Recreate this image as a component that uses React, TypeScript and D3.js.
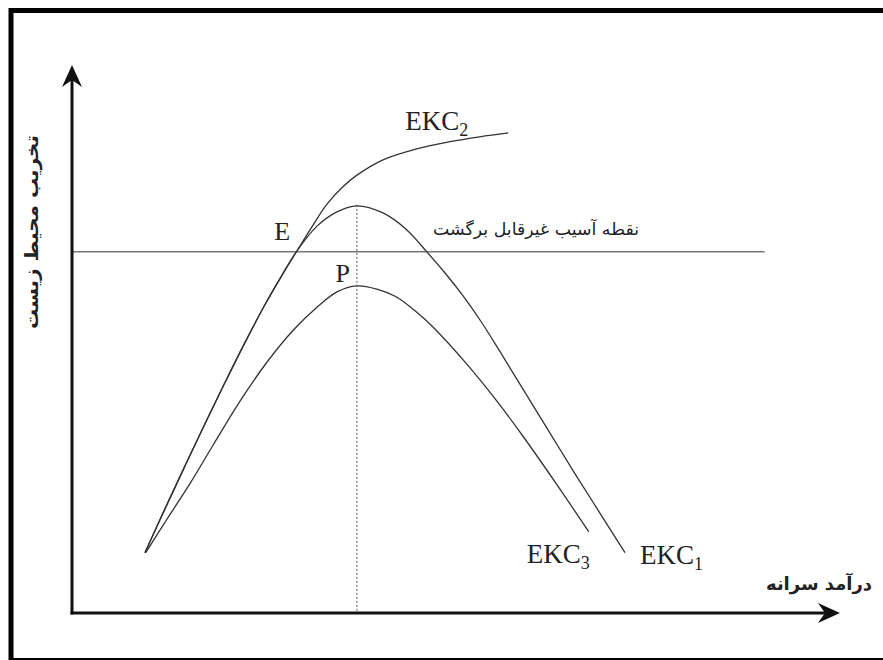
import React from "react"
import * as d3 from "d3"

// readings from the figure (income on x, environmental damage on y, both 0..100)
const ekc1: [number, number][] = [
  [9.5, 11.0], [12.1, 19.0], [14.7, 26.8], [17.3, 34.5], [19.9, 42.0], [22.5, 49.3],
  [25.1, 56.2], [27.2, 61.3], [29.3, 66.1], [31.9, 70.6], [34.5, 73.2], [37.1, 74.3],
  [40.5, 73.0], [43.6, 69.9], [46.2, 65.9], [48.6, 62.0], [50.9, 57.9], [53.3, 53.1],
  [55.6, 48.0], [58.3, 41.8], [61.6, 34.3], [65.5, 25.4], [68.8, 18.1], [72.0, 11.0],
]
const ekc2: [number, number][] = [
  [9.5, 11.0], [12.1, 19.0], [14.7, 26.8], [17.3, 34.5], [19.9, 42.0], [22.5, 49.3],
  [25.1, 56.2], [27.2, 61.3], [29.3, 66.1], [31.3, 70.6], [33.2, 74.6], [35.2, 77.7],
  [37.1, 79.9], [40.5, 82.7], [44.9, 84.7], [49.2, 86.0], [53.1, 86.9], [56.8, 87.6],
]
const ekc3: [number, number][] = [
  [9.6, 11.0], [12.4, 17.2], [15.4, 23.7], [18.4, 30.7], [21.9, 38.7], [25.4, 45.8],
  [28.8, 51.6], [31.9, 55.8], [34.5, 58.6], [37.1, 59.7], [39.7, 59.1], [42.2, 57.7],
  [44.7, 55.1], [47.0, 52.2], [51.3, 45.6], [55.2, 38.9], [58.7, 32.3], [63.0, 23.7],
  [67.3, 14.8],
]
const threshold = 65.9
const thresholdEnd = 90.2
const turningIncome = 37.1
const crossingIncome = 29.3

const yTitle = "تخریب محیط زیست"
const xTitle = "درآمد سرانه"
const thresholdLabel = "نقطه آسیب غیرقابل برگشت"

const W = 883
const H = 660

export default function App() {
  const x = d3.scaleLinear().domain([0, 100]).range([72, 840])
  const y = d3.scaleLinear().domain([0, 100]).range([613, 65])

  const line = d3
    .line<[number, number]>()
    .x(d => x(d[0]))
    .y(d => y(d[1]))
    .curve(d3.curveCatmullRom.alpha(0.5))

  const x0 = x(0)
  const y0 = y(0)
  const yTip = y(100)
  const xTip = x(100)

  const end1 = ekc1[ekc1.length - 1]
  const end2 = ekc2[ekc2.length - 1]
  const end3 = ekc3[ekc3.length - 1]
  const peak1 = d3.greatest(ekc1, d => d[1])!
  const peak3 = d3.greatest(ekc3, d => d[1])!

  const serif = "'Liberation Serif', 'Times New Roman', serif"
  const arabic = "'DejaVu Sans', sans-serif"

  const ekcLabel = (n: string, px: number, py: number, anchor = "start") => (
    <text x={px} y={py} fontFamily={serif} fontSize={27} fill="#222" textAnchor={anchor}>
      EKC<tspan fontSize={18} dy={6}>{n}</tspan>
    </text>
  )

  return (
    <svg width={W} height={H} style={{ position: "absolute", left: 0, top: 0, background: "#fff" }}>
      <rect x={11} y={10.5} width={900} height={650} fill="none" stroke="#000" strokeWidth={5} />

      {/* threshold and turning point guide */}
      <line x1={x0} x2={x(thresholdEnd)} y1={y(threshold)} y2={y(threshold)} stroke="#777" strokeWidth={1.5} />
      <line
        x1={x(turningIncome)}
        x2={x(turningIncome)}
        y1={y(peak1[1]) - 1}
        y2={y0}
        stroke="#555"
        strokeWidth={1}
        strokeDasharray="2,2"
      />

      {/* curves */}
      <g fill="none" stroke="#333" strokeWidth={1.3}>
        <path d={line(ekc1)!} />
        <path d={line(ekc2)!} />
        <path d={line(ekc3)!} />
      </g>

      {/* axes */}
      <g stroke="#111" strokeWidth={3}>
        <line x1={x0} x2={x0} y1={y0 + 1.5} y2={yTip + 14} />
        <line x1={x0 - 1.5} x2={xTip - 14} y1={y0} y2={y0} />
      </g>
      <path
        d={`M${x0},${yTip} L${x0 - 10},${yTip + 22} L${x0},${yTip + 15} L${x0 + 10},${yTip + 22} Z`}
        fill="#111"
      />
      <path
        d={`M${xTip},${y0} L${xTip - 22},${y0 - 10} L${xTip - 15},${y0} L${xTip - 22},${y0 + 10} Z`}
        fill="#111"
      />

      {/* labels */}
      {ekcLabel("2", x(end2[0]) - 103, y(end2[1]) - 3)}
      {ekcLabel("1", x(end1[0]) + 15, y(end1[1]) + 11)}
      {ekcLabel("3", x(end3[0]) + 1, y(end3[1]) + 31, "end")}
      <text x={x(crossingIncome) - 7} y={y(threshold) - 12} fontFamily={serif} fontSize={26} fill="#222" textAnchor="end">
        E
      </text>
      <text x={x(peak3[0]) - 7} y={y(peak3[1]) - 4} fontFamily={serif} fontSize={26} fill="#222" textAnchor="end">
        P
      </text>
      <text
        x={536}
        y={y(threshold) - 17}
        fontFamily={arabic}
        fontSize={17}
        fill="#222"
        textAnchor="middle"
        direction="rtl"
        textLength={206}
        lengthAdjust="spacingAndGlyphs"
      >
        {thresholdLabel}
      </text>
      <text
        transform={`translate(38, 232) rotate(-90)`}
        fontFamily={arabic}
        fontSize={18}
        fontWeight="bold"
        fill="#222"
        textAnchor="middle"
        direction="rtl"
        textLength={194}
        lengthAdjust="spacingAndGlyphs"
      >
        {yTitle}
      </text>
      <text
        x={819}
        y={590}
        fontFamily={arabic}
        fontSize={18}
        fontWeight="bold"
        fill="#222"
        textAnchor="middle"
        direction="rtl"
        textLength={106}
        lengthAdjust="spacingAndGlyphs"
      >
        {xTitle}
      </text>
    </svg>
  )
}
